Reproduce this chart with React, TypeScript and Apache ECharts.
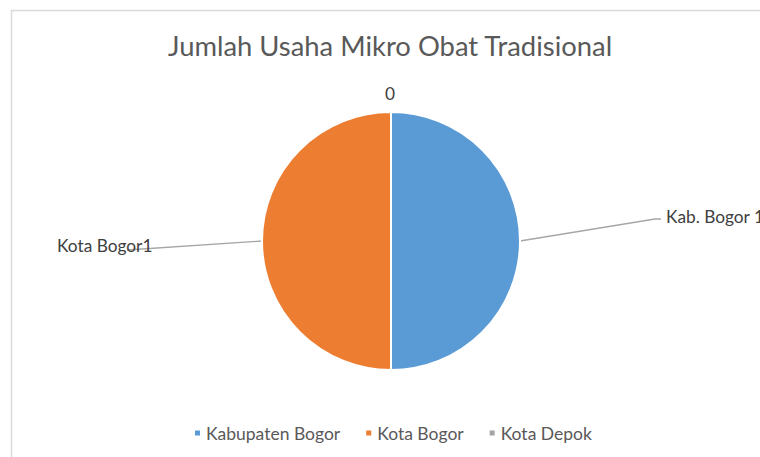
import React, { useEffect, useRef } from "react";
import * as echarts from "echarts";

const titleText = "Jumlah Usaha Mikro Obat Tradisional";
const categories = ["Kabupaten Bogor", "Kota Bogor", "Kota Depok"];
const labelNames = ["Kab. Bogor ", "Kota Bogor", ""];
const values = [1, 1, 0];
const colors = ["#5B9BD5", "#ED7D31", "#A5A5A5"];

export default function App() {
  const ref = useRef<HTMLDivElement>(null);
  useEffect(() => {
    if (!ref.current) return;
    const chart = echarts.init(ref.current, null, { renderer: "svg" });
    const font = "Lato";
    chart.setOption({
      animation: false,
      backgroundColor: "#ffffff",
      color: colors,
      title: {
        text: titleText,
        left: 163,
        top: 27,
        textStyle: { fontFamily: font, fontSize: 27.4, fontWeight: "normal", color: "#595959" },
      },
      legend: {
        bottom: 10,
        left: 188,
        icon: "rect",
        itemWidth: 7,
        itemHeight: 7,
        itemGap: 24,
        data: categories,
        textStyle: { fontFamily: font, fontSize: 17.5, color: "#595959" },
      },
      graphic: [
        {
          type: "rect",
          shape: { x: 11.5, y: 10.5, width: 900, height: 600 },
          style: { fill: "none", stroke: "#d9d9d9", lineWidth: 1.5 },
          silent: true,
        },
      ],
      series: [
        {
          type: "pie",
          center: [391, 241],
          radius: 129,
          startAngle: 90,
          clockwise: true,
          itemStyle: { borderColor: "#ffffff", borderWidth: 2 },
          label: {
            show: true,
            fontFamily: font,
            fontSize: 17.3,
            color: "#404040",
            formatter: (p: any) => labelNames[p.dataIndex] + p.value,
          },
          labelLine: { show: true, lineStyle: { color: "#a6a6a6", width: 1.3 } },
          labelLayout: (p: any) => {
            const start = p.labelLinePoints ? p.labelLinePoints[0] : [0, 0];
            if (p.dataIndex === 0) {
              return {
                x: 666,
                y: 216,
                align: "left",
                verticalAlign: "middle",
                labelLinePoints: [start, [655, 219], [661, 219]],
              };
            }
            if (p.dataIndex === 1) {
              return {
                x: 57,
                y: 245,
                align: "left",
                verticalAlign: "middle",
                labelLinePoints: [start, [127, 250]],
              };
            }
            return { x: 390, y: 93, align: "center", verticalAlign: "middle" };
          },
          data: categories.map((c, i) => ({
            name: c,
            value: values[i],
            labelLine: { show: i !== 2 },
          })),
        },
      ],
    });
    return () => chart.dispose();
  }, []);
  return (
    <div
      ref={ref}
      style={{ position: "fixed", left: 0, top: 0, width: 760, height: 457 }}
    />
  );
}
